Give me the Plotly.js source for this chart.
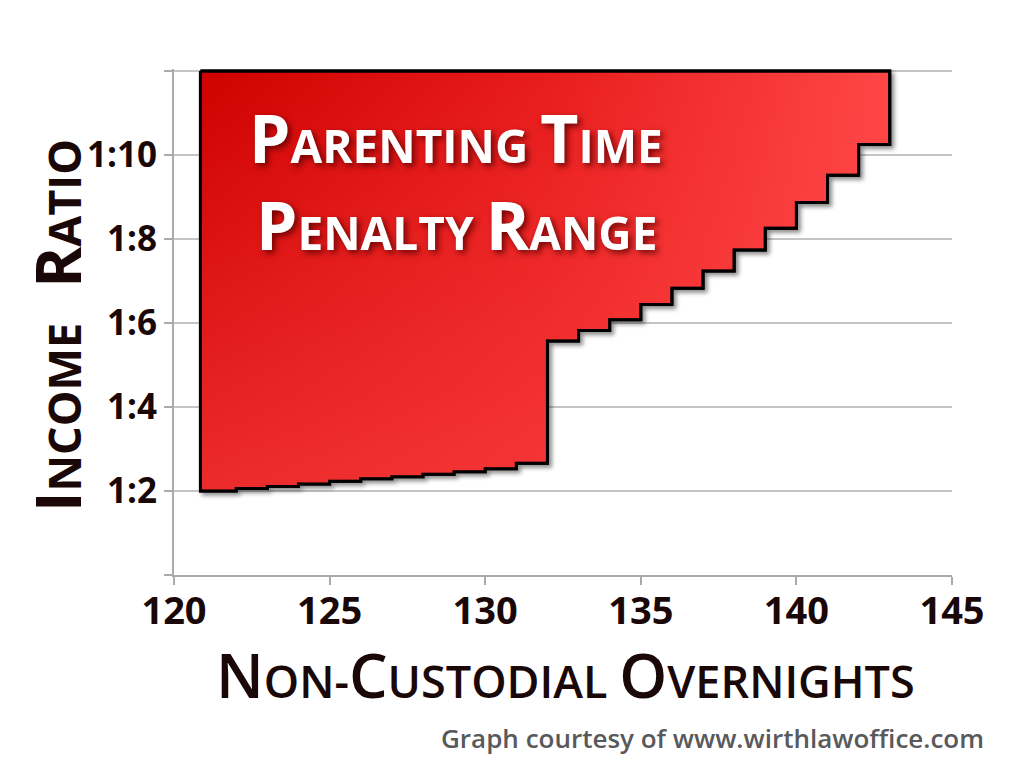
<!DOCTYPE html>
<html>
<head>
<meta charset="utf-8">
<script src="https://cdn.plot.ly/plotly-3.0.1.min.js"></script>
<style>
  html, body { margin: 0; padding: 0; background: #ffffff; }
  #chart { width: 1024px; height: 776px; }
  #chart .scatterlayer .trace:first-child { filter: drop-shadow(3px 3px 2px rgba(0,0,0,0.45)); }
  #chart g.annotation[data-index="0"], #chart g.annotation[data-index="1"] {
    filter: drop-shadow(3px 3px 3px rgba(90,0,0,0.85));
  }
</style>
</head>
<body>
<div id="chart"></div>
<script>
// Non-custodial overnights (start of each step) and the income ratio (1:N) where the penalty begins
const overnights = [120.85, 122, 123, 124, 125, 126, 127, 128, 129, 130, 131,
                    132, 133, 134, 135, 136, 137, 138, 139, 140, 141, 142];
const penaltyStartRatio = [2.00, 2.06, 2.11, 2.17, 2.23, 2.29, 2.34, 2.40, 2.46, 2.53, 2.66,
                           5.57, 5.82, 6.08, 6.44, 6.83, 7.24, 7.74, 8.26, 8.87, 9.52, 10.25];
const lastOvernight = 143;
const ratioTop = 12;

const yTickVals = [0, 2, 4, 6, 8, 10, 12];
const yTickText = ['', '1:2', '1:4', '1:6', '1:8', '1:10', ''];
const xTickVals = [120, 125, 130, 135, 140, 145];

// closed outline of the penalty region (top edge at ratioTop)
const xs = [overnights[0]].concat(overnights, [lastOvernight, overnights[0]]);
const ys = [ratioTop].concat(penaltyStartRatio, [ratioTop, ratioTop]);

const ink = '#1a0808';
const font = 'Open Sans, sans-serif';

// small caps: first letter of each part big, rest smaller (parts split on space / hyphen)
function smallCaps(text, big) {
  return text.replace(/(^|[\s\-])([A-Z])/g, (m, sep, ch) =>
    sep + '<span style="font-size:' + big + 'px">' + ch + '</span>');
}

const baseTrace = {
  type: 'scatter',
  mode: 'lines',
  x: xs,
  y: ys,
  line: { shape: 'hv', color: '#000000', width: 3 },
  fill: 'toself',
  fillcolor: '#e82020',
  fillgradient: {
    type: 'horizontal',
    colorscale: [[0, '#cf0000'], [0.5, '#e81c1c'], [1, '#ff4646']]
  },
  hoverinfo: 'skip',
  showlegend: false
};

const glowTrace = {
  type: 'scatter',
  mode: 'lines',
  x: xs,
  y: ys,
  line: { shape: 'hv', color: '#000000', width: 3 },
  fill: 'toself',
  fillcolor: 'rgba(255,70,70,0.3)',
  fillgradient: {
    type: 'vertical',
    colorscale: [[0, 'rgba(255,72,72,0.6)'], [1, 'rgba(255,72,72,0)']]
  },
  hoverinfo: 'skip',
  showlegend: false
};

const layout = {
  width: 1024,
  height: 776,
  margin: { l: 174, r: 72, t: 69, b: 201 },
  paper_bgcolor: '#ffffff',
  plot_bgcolor: '#ffffff',
  showlegend: false,
  font: { family: font, color: ink },
  xaxis: {
    range: [120, 145],
    tickvals: xTickVals,
    ticktext: xTickVals.map(String),
    ticks: 'outside',
    ticklen: 8,
    ticklabelstandoff: -7,
    tickwidth: 2,
    tickcolor: '#aaaaaa',
    showline: true,
    linecolor: '#aaaaaa',
    linewidth: 2,
    showgrid: false,
    zeroline: false,
    tickfont: { family: font, size: 38, color: ink, weight: 700 }
  },
  yaxis: {
    range: [0, 12.05],
    tickvals: yTickVals,
    ticktext: yTickText,
    ticks: 'outside',
    ticklen: 8,
    tickwidth: 2,
    tickcolor: '#aaaaaa',
    showline: true,
    linecolor: '#aaaaaa',
    linewidth: 2,
    showgrid: true,
    gridcolor: '#c4c4c4',
    gridwidth: 2,
    zeroline: false,
    tickfont: { family: font, size: 35, color: ink, weight: 700 }
  },
  annotations: [
    {
      xref: 'paper', yref: 'paper',
      x: 0.363, y: (575 - 184) / 506,
      xanchor: 'center', yanchor: 'bottom',
      showarrow: false,
      text: smallCaps('PARENTING TIME', 66),
      font: { family: font, size: 46, color: '#ffffff', weight: 700 }
    },
    {
      xref: 'paper', yref: 'paper',
      x: 0.363, y: (575 - 271) / 506,
      xanchor: 'center', yanchor: 'bottom',
      showarrow: false,
      text: smallCaps('PENALTY RANGE', 66),
      font: { family: font, size: 46, color: '#ffffff', weight: 700 }
    },
    {
      xref: 'paper', yref: 'paper',
      x: (986 - 174) / 778, y: (575 - 758) / 506,
      xanchor: 'right', yanchor: 'bottom',
      showarrow: false,
      text: 'Graph courtesy of www.wirthlawoffice.com',
      font: { family: font, size: 26, color: '#58595b', weight: 600 }
    },
    {
      // y-axis title
      xref: 'paper', yref: 'paper',
      x: (57 - 174) / 778, y: (575 - 326) / 506,
      xanchor: 'center', yanchor: 'middle',
      textangle: -90,
      showarrow: false,
      text: smallCaps('INCOME\u00a0\u00a0 RATIO', 62),
      font: { family: font, size: 45, color: ink, weight: 700 }
    },
    {
      // x-axis title
      xref: 'paper', yref: 'paper',
      x: (565 - 174) / 778, y: (575 - 718) / 506,
      xanchor: 'center', yanchor: 'bottom',
      showarrow: false,
      text: smallCaps('NON-CUSTODIAL OVERNIGHTS', 61),
      font: { family: font, size: 45, color: ink, weight: 600 }
    }
  ]
};

Plotly.newPlot('chart', [baseTrace, glowTrace], layout, { displayModeBar: false, staticPlot: true });
</script>
</body>
</html>
